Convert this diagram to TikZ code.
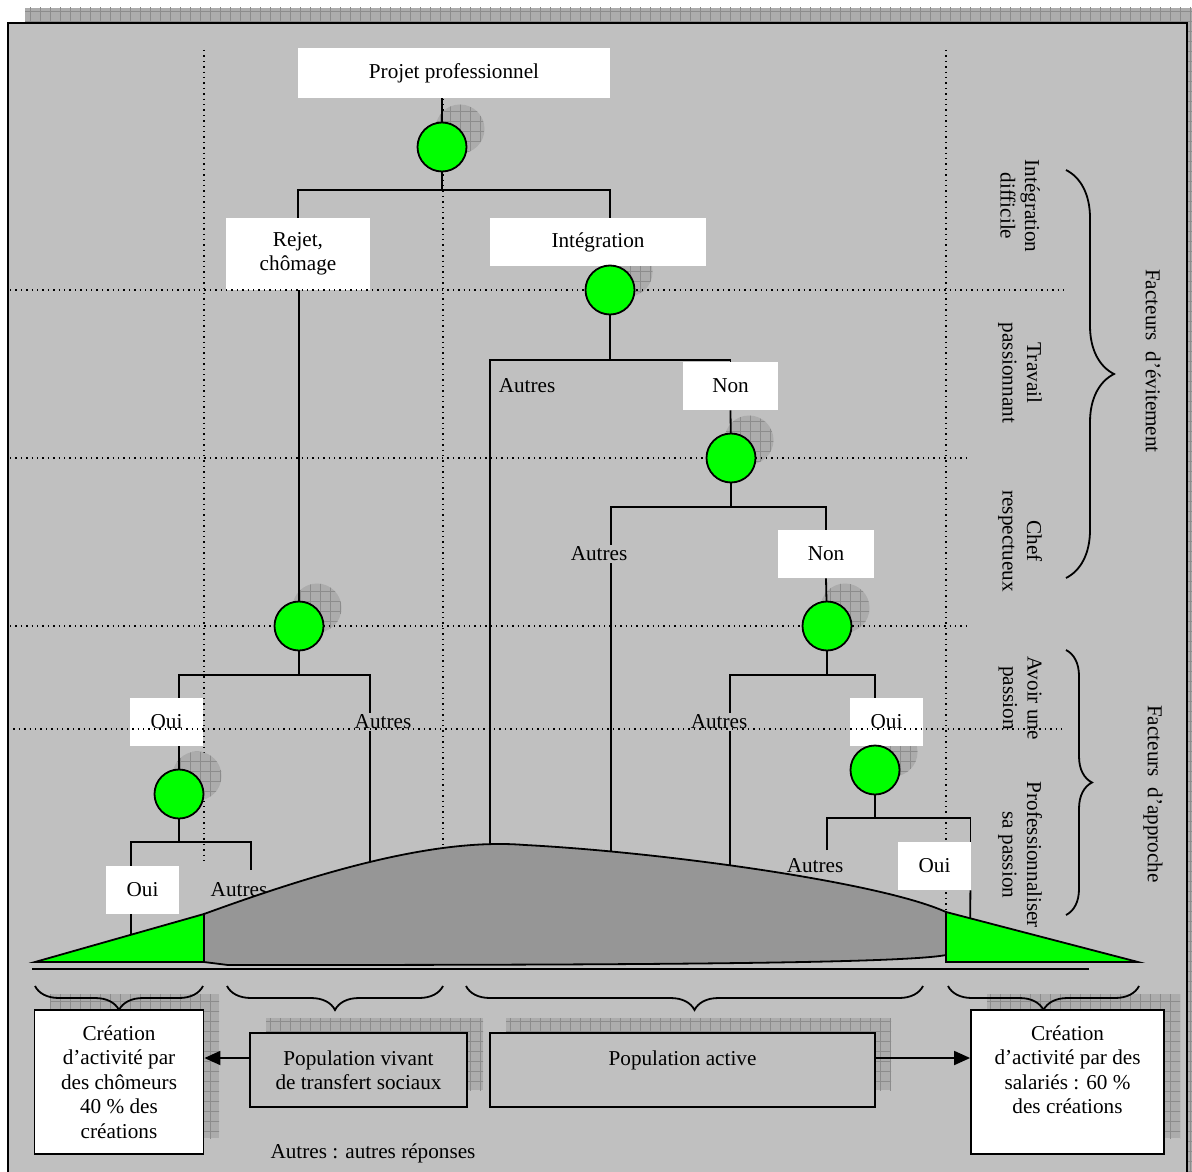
\documentclass[tikz,border=0pt]{standalone}
\usepackage{fontspec}
\setmainfont{Liberation Serif}
\usetikzlibrary{arrows.meta,decorations.pathreplacing,patterns.meta}
\definecolor{bggray}{RGB}{192,192,192}
\definecolor{humpgray}{RGB}{150,150,150}
\definecolor{shadowfill}{RGB}{172,172,172}
\definecolor{gridgray}{RGB}{140,140,140}

\begin{document}
\begin{tikzpicture}[x=0.5pt, y=-0.5pt,
    font=\fontsize{10.6}{12.25}\selectfont,
    tree/.style={line width=0.9pt},
    grille/.style={dotted, line width=0.7pt},
    whitebox/.style={fill=white, inner sep=0pt, minimum height=24pt},
    framebox/.style={draw, line width=0.9pt, inner sep=0pt, align=center},
    lbl/.style={fill=bggray, inner sep=1pt},
    dec/.style={circle, draw, line width=0.9pt, fill=green, minimum size=24.5pt, inner sep=0pt},
    shadowgrid/.style={fill=shadowfill,
        postaction={pattern={Lines[distance=5pt, line width=0.35pt]}, pattern color=gridgray},
        postaction={pattern={Lines[angle=90, distance=5pt, line width=0.35pt]}, pattern color=gridgray}},
    rot/.style={rotate=-90, align=center},
    accolade/.style={decorate, line width=0.9pt},
    arr/.style={line width=0.9pt, -{Triangle[length=8pt, width=7pt]}}]

    \useasboundingbox (0,0) rectangle (1192,1171);

    % Frame
    \fill[shadowgrid] (25,8) rectangle (1192,1171);
    \draw[line width=1.3pt, fill=bggray] (8,23) rectangle (1187,1190);

    % Decision points
    \coordinate (c1) at (442,147);
    \coordinate (c2) at (610,290);
    \coordinate (c3) at (731,458);
    \coordinate (c4) at (827,626);
    \coordinate (c5) at (875,770);
    \coordinate (c6) at (299,626);
    \coordinate (c7) at (179,794);

    % Vertical guides
    \draw[grille] (204,50) -- (204,865);
    \draw[grille] (443,50) -- (443,870);
    \draw[grille] (946,50) -- (946,914);

    % Shadows of the circles
    \foreach \n in {c1,c2,c3,c4,c5,c6,c7}
        \fill[shadowgrid] (\n) ++(18,-18) circle[radius=24.5];

    % Answer boxes
    \node[whitebox, minimum width=156pt, minimum height=25pt] (projet) at (454,73) {Projet professionnel};
    \node[whitebox, align=center, minimum width=72pt, minimum height=36pt] (rejet) at (298,254) {Rejet,\\chômage};
    \node[whitebox, minimum width=108pt] (integ) at (598,242) {Intégration};
    \node[whitebox, minimum width=47.5pt] (non1) at (730.5,386) {Non};
    \node[whitebox, minimum width=48pt] (non2) at (826,554) {Non};
    \node[whitebox, minimum width=36.5pt] (oui1) at (166.5,722) {Oui};
    \node[whitebox, minimum width=36.5pt] (oui2) at (142.5,890) {Oui};
    \node[whitebox, minimum width=36.5pt] (oui3) at (886.5,722) {Oui};
    \node[whitebox, minimum width=36.5pt] (oui4) at (934.5,866) {Oui};

    % Tree
    \draw[tree] (projet.south -| c1) -- (c1) -- (442,190) coordinate (k1);
    \draw[tree] (rejet.north) |- (k1) -| (integ.north -| c2);
    \draw[tree] (rejet.south -| c6) -- (c6) -- (299,675) coordinate (k6);
    \draw[tree] (oui1.north -| c7) |- (k6) -| (370,900);
    \draw[tree] (oui1.south -| c7) -- (c7) -- (179,842) coordinate (k7);
    \draw[tree] ([xshift=-5.75pt]oui2.north) |- (k7) -| (251,870);
    \draw[tree] ([xshift=-5.75pt]oui2.south) -- (131,950);
    \draw[tree] (integ.south -| c2) -- (c2) -- (610,360) coordinate (k2);
    \draw[tree] (490,900) |- (k2) -| (non1.north);
    \draw[tree] (non1.south) -- (c3) -- (731,507) coordinate (k3);
    \draw[tree] (611,900) |- (k3) -| (non2.north);
    \draw[tree] (non2.south) -- (c4) -- (827,675) coordinate (k4);
    \draw[tree] (730,900) |- (k4) -| (oui3.north -| c5);
    \draw[tree] (c5) -- (875,818) coordinate (k5);
    \draw[tree] (827,850) |- (k5) -| ([xshift=-0.5pt]oui4.north east);
    \draw[tree] ([xshift=-0.5pt]oui4.south east) -- (970,945);

    % Other answers
    \node[lbl] (autres1) at (527,386) {Autres};
    \node[lbl] (autres2) at (599,554) {Autres};
    \node[lbl] (autres3) at (383,722) {Autres};
    \node[lbl] (autres4) at (719,722) {Autres};
    \node[lbl] (autres5) at (239,890) {Autres};
    \node[lbl] (autres6) at (815,866) {Autres};

    % Horizontal guides
    \draw[grille] (10,290) -- (1066,290);
    \draw[grille] (10,458) -- (968,458);
    \draw[grille] (10,626) -- (968,626);
    \draw[grille] (8,729) -- (1063,729);

    % Circles
    \foreach \n in {c1,c2,c3,c4,c5,c6,c7}
        \node[dec] (rond-\n) at (\n) {};

    % Population curve
    \draw[line width=0.9pt, fill=humpgray] (204,914) .. controls (330,868) and (440,838) .. (525,845)
        .. controls (660,852) and (880,882) .. (946,912) -- (946,955)
        .. controls (900,964) and (600,965) .. (228,965) -- (204,962) -- cycle;
    \draw[line width=0.9pt, fill=green] (35,962) -- (204,914) -- (204,962) -- cycle;
    \draw[line width=0.9pt, fill=green] (946,912) -- (1138,962) -- (946,962) -- cycle;
    \draw[line width=1.2pt] (32,969) -- (1089,969);

    % Right side factors
    \node[rot] (integdiff) at (1020,206) {Intégration\\difficile};
    \node[rot] (travail) at (1020,373) {Travail\\passionnant};
    \node[rot] (chef) at (1020,541) {Chef\\respectueux};
    \node[rot] (avoir) at (1020,698) {Avoir une\\passion};
    \node[rot] (profess) at (1020,855) {Professionnaliser\\sa passion};
    \draw[accolade, decoration={brace, amplitude=24pt}] (1066,170) -- (1066,578);
    \draw[accolade, decoration={brace, amplitude=13pt}] (1066,650) -- (1066,915);
    \node[rotate=-90] (evitement) at (1153,361) {Facteurs \ d’évitement};
    \node[rotate=-90] (approche) at (1153,794) {Facteurs \ d’approche};

    % Bottom boxes
    \fill[shadowgrid] (50,994) rectangle (219,1138);
    \fill[shadowgrid] (266,1018) rectangle (483,1090);
    \fill[shadowgrid] (506,1018) rectangle (891,1090);
    \fill[shadowgrid] (987,994) rectangle (1180,1138);
    \draw[accolade, decoration={brace, mirror, amplitude=12pt}] (35,986) -- (203,986);
    \draw[accolade, decoration={brace, mirror, amplitude=12pt}] (227,986) -- (443,986);
    \draw[accolade, decoration={brace, mirror, amplitude=12pt}] (466,986) -- (923,986);
    \draw[accolade, decoration={brace, mirror, amplitude=12pt}] (948,986) -- (1139,986);

    \node[framebox, fill=white, minimum width=84.5pt, minimum height=72pt] (chomeurs) at (119,1082)
        {Création\\d’activité par\\des chômeurs\\40 \% des\\créations};
    \node[framebox, fill=bggray, minimum width=108.5pt, minimum height=37pt] (transfert) at (358.5,1070)
        {Population vivant\\de transfert sociaux};
    \node[framebox, fill=bggray, minimum width=192.5pt, minimum height=37pt] (active) at (682.5,1070)
        {Population active\\\mbox{}};
    \node[framebox, fill=white, minimum width=96.5pt, minimum height=72pt] (salaries) at (1067.5,1082)
        {Création\\d’activité par des\\salariés : 60 \%\\des créations\\\mbox{}};

    \coordinate (fl) at (0,1058);
    \draw[arr] (transfert.west |- fl) -- (chomeurs.east |- fl);
    \draw[arr] (active.east |- fl) -- (salaries.west |- fl);

    \node (note) at (373,1153) {Autres : autres réponses};

\end{tikzpicture}
\end{document}
